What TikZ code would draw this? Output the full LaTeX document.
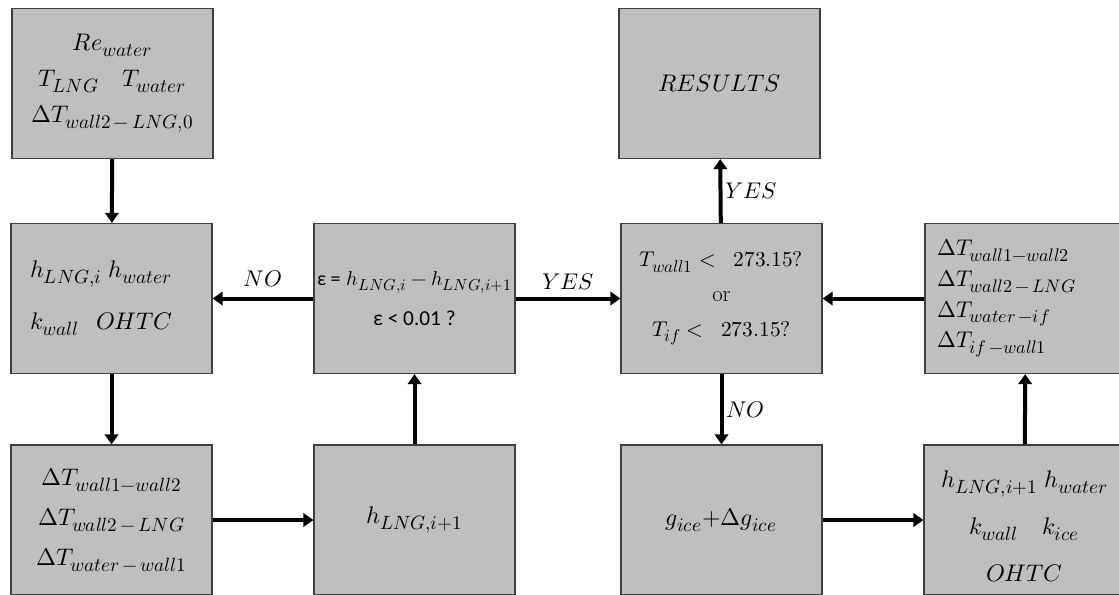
\documentclass[tikz,border=0pt]{standalone}
\usepackage{fontspec}
\usepackage{unicode-math}
\newfontfamily\calib{Carlito}
\DeclareMathSizes{15}{15}{12}{9.5}
\DeclareMathSizes{16}{16}{12.8}{10}
\DeclareMathSizes{17}{17}{13.6}{10.5}
\DeclareMathSizes{18}{18}{14.4}{11}
\usetikzlibrary{arrows.meta}
\definecolor{boxfill}{HTML}{BFBFBF}
\definecolor{boxline}{HTML}{404040}
\tikzset{
  stepbox/.style={draw=boxline, fill=boxfill, line width=0.9pt,
    minimum width=150.75pt, minimum height=112.5pt, inner sep=0pt,
    align=center},
  big/.style={font=\fontsize{18}{28}\selectfont},
  flow/.style={line width=3pt, -{Triangle[length=7.5pt,width=10pt]}},
  lbl/.style={font=\fontsize{17}{20}\selectfont, inner sep=4pt}
}
\begin{document}
\begin{tikzpicture}[x=0.75pt,y=-0.75pt]
\useasboundingbox (0,0) rectangle (1119,594);
\clip (0,0) rectangle (1119,594);

% inputs
\node[stepbox, font=\fontsize{18}{27}\selectfont] (inp) at (112.5,83.5)
  {$Re_{water}$\\ $T_{LNG}\quad T_{water}$\\ $\Delta T_{wall2\,-\,LNG,0}$};
% coefficients
\node[stepbox, font=\fontsize{18}{39}\selectfont, align=left,
      text width=122pt] (coef) at (111.5,298.5)
  {$h_{LNG,i}\;h_{water}$\\ $k_{wall}\;\;\, OHTC$};
% temperature differences
\node[stepbox, font=\fontsize{18}{30}\selectfont] (dT) at (111.5,520)
  {$\Delta T_{wall1-wall2}$\\ $\Delta T_{wall2\,-\,LNG}$\\ $\Delta T_{water\,-\,wall1}$};
% convergence check
\node[stepbox, font=\fontsize{15}{30}\selectfont] (conv) at (414.5,298.5)
  {{\calib ε =} $h_{LNG,i} - h_{LNG,i+1}$\\ {\calib\fontsize{16}{16}\selectfont ε < 0.01 ?}};
% new coefficient
\node[stepbox, big] (hnew) at (414.5,520) {$h_{LNG,i+1}$};
% freezing check
\node[stepbox, font=\fontsize{16}{26}\selectfont] (frz) at (721.5,298.5)
  {$T_{wall1} < \;\; 273.15?$\\ {\fontsize{17}{17}\selectfont or}\\ $T_{if} < \;\; 273.15?$};
% results
\node[stepbox, big] (res) at (719.5,83.5) {$RESULTS$};
% ice-layer temperature differences
\node[stepbox, font=\fontsize{17}{23}\selectfont, align=left,
      text width=132pt] (dTice) at (1025.5,298.5)
  {$\Delta T_{wall1-wall2}$\\ $\Delta T_{wall2\,-\,LNG}$\\
   $\Delta T_{water\,-if}$\\ $\Delta T_{if\,-wall1}$};
% ice growth
\node[stepbox, big] (ice) at (721.5,520) {$g_{ice}{+}\Delta g_{ice}$};
% updated coefficients
\node[stepbox, font=\fontsize{18}{35}\selectfont] (coefice) at (1024.5,520)
  {\rule{0pt}{22pt}$h_{LNG,i+1}\;h_{water}$\\ $k_{wall}\quad k_{ice}$\\ $OHTC$};

% connectors
\draw[flow] (inp) -- (coef);
\draw[flow] (conv) -- node[lbl, above, inner sep=7pt] {$NO$} (coef);
\draw[flow] (coef) -- (dT);
\draw[flow] (dT) -- (hnew);
\draw[flow] (hnew) -- (conv);
\draw[flow] (conv) -- node[lbl, above, inner sep=5pt] {$YES$} (frz);
\draw[flow] (frz) -- node[lbl, right, inner sep=2pt] {$YES$} (res);
\draw[flow] (frz) -- node[lbl, right, inner sep=2pt] {$NO$} (ice);
\draw[flow] (ice) -- (coefice);
\draw[flow] (coefice) -- (dTice);
\draw[flow] (dTice) -- (frz);
\end{tikzpicture}
\end{document}
